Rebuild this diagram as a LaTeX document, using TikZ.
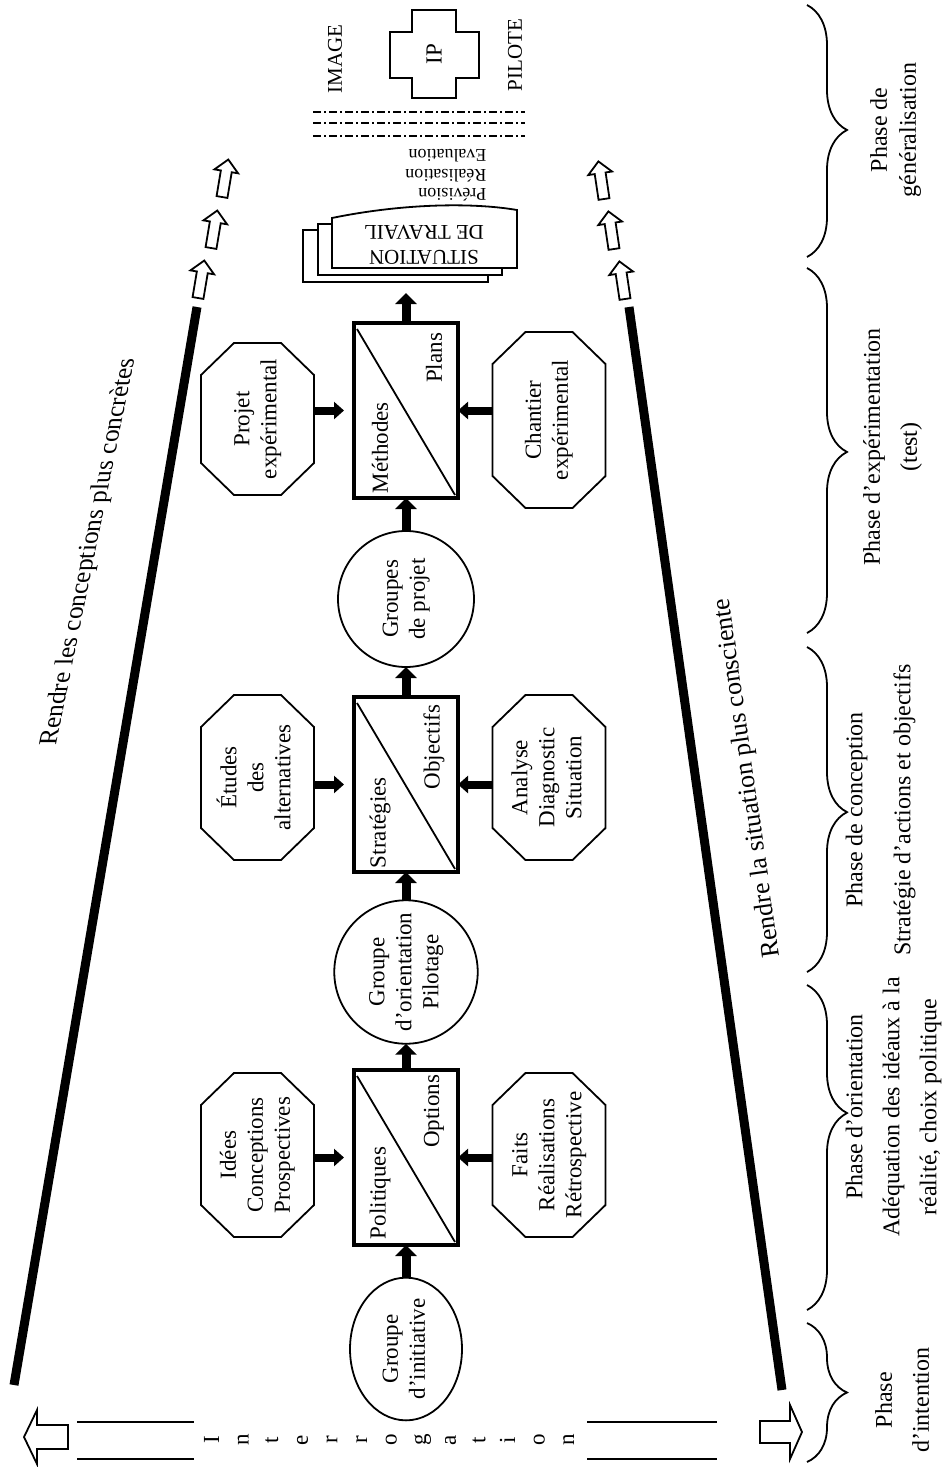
\documentclass[tikz,border=0pt]{standalone}
\usepackage{fontspec}
\setmainfont{Liberation Serif}
\usepackage{graphicx}
\usetikzlibrary{arrows.meta,shapes.geometric,decorations.pathreplacing}

% a block of centred lines, turned to read from bottom to top
\newcommand{\vtxt}[1]{\rotatebox{90}{\begin{tabular}{@{}c@{}}#1\end{tabular}}}
% a block of lines turned upside down
\newcommand{\flipped}[2]{\rotatebox{180}{\begin{tabular}{@{}#1@{}}#2\end{tabular}}}

\tikzset{
  hollowup/.pic={
    \draw[line width=0.9pt,fill=white,line join=miter]
      (-5.5,0) -- (-5.5,-26) -- (-12,-26) -- (0,-38) -- (12,-26) -- (5.5,-26) -- (5.5,0) -- cycle;
  }
}

\begin{document}
\begin{tikzpicture}[x=0.5pt,y=-0.5pt,
  every node/.style={inner sep=0pt,outer sep=0pt,font=\fontsize{11.5}{13.5}\selectfont},
  fineline/.style={line width=0.9pt},
  grp/.style={draw,circle,fineline,minimum size=68pt},
  grpell/.style={draw,ellipse,fineline,minimum width=56pt,minimum height=64pt},
  octo/.style={rectangle,minimum width=56.5pt},
  splitbox/.style={draw,rectangle,line width=1.8pt,minimum width=52pt,minimum height=87.5pt},
  vflow/.style={line width=4.5pt,-{Triangle[width=10.5pt,length=5.5pt]}},
  hflow/.style={line width=4pt,-{Triangle[width=8.5pt,length=5pt]}},
  phase/.style={font=\fontsize{12}{18.5}\selectfont},
  bracket/.style={fineline,decorate,decoration={brace,amplitude=20pt,aspect=#1}},
  bracket/.default=0.5,
  guideline/.style={line width=4.5pt},
  hollow/.style={fineline,fill=white,line join=miter},
  dashdotline/.style={line width=0.8pt,dash pattern=on 4pt off 1.5pt on 1pt off 1.5pt},
  slogan/.style={font=\fontsize{13}{15}\selectfont},
  capstxt/.style={font=\fontsize{10.5}{12.5}\selectfont},
  smalltxt/.style={font=\fontsize{9}{9.75}\selectfont},
]
\useasboundingbox (0,0) rectangle (947,1467);

% ---- main chain: groups and split boxes
\node[grpell] (gi) at (406,1349) {\vtxt{Groupe\\d'initiative}};
\node[splitbox] (b1) at (406,1157.5) {};
\node[grp] (go) at (406,972) {\vtxt{Groupe\\d'orientation\\Pilotage}};
\node[splitbox] (b2) at (406,784.5) {};
\node[grp] (gp) at (406,599) {\vtxt{Groupes\\de projet}};
\node[splitbox] (b3) at (406,410.5) {};

\foreach \b in {b1,b2,b3}
  \draw[fineline] ([shift={(3,6)}]\b.north west) -- ([shift={(-3,-3)}]\b.south east);

\node[anchor=south] (t1a) at (380,1239) {\rotatebox{90}{Politiques}};
\node[anchor=north] (t1b) at (434,1075) {\rotatebox{90}{Options}};
\node[anchor=south] (t2a) at (380,868) {\rotatebox{90}{Stratégies}};
\node[anchor=north] (t2b) at (434,705) {\rotatebox{90}{Objectifs}};
\node[anchor=south] (t3a) at (380,493) {\rotatebox{90}{Méthodes}};
\node[anchor=north] (t3b) at (434,333) {\rotatebox{90}{Plans}};

% ---- side inputs (octagons with cut corners)
\node[octo,minimum height=82pt] (i1) at (257.5,1155) {\vtxt{Idées\\Conceptions\\Prospectives}};
\node[octo,minimum height=82.5pt] (i2) at (257.5,777.5) {\vtxt{Études\\des\\alternatives}};
\node[octo,minimum height=76pt] (i3) at (257.5,419) {\vtxt{Projet\\expérimental}};
\node[octo,minimum height=82pt] (r1) at (549,1155) {\vtxt{Faits\\Réalisations\\Rétrospective}};
\node[octo,minimum height=82.5pt] (r2) at (549,777.5) {\vtxt{Analyse\\Diagnostic\\Situation}};
\node[octo,minimum height=88pt] (r3) at (549,420) {\vtxt{Chantier\\expérimental}};

\foreach \n in {i1,i2,i3,r1,r2,r3}
  \draw[fineline,line join=miter]
    ([shift={(0,32)}]\n.north west) -- ([shift={(33,0)}]\n.north west)
    -- ([shift={(-33,0)}]\n.north east) -- ([shift={(0,32)}]\n.north east)
    -- ([shift={(0,-32)}]\n.south east) -- ([shift={(-33,0)}]\n.south east)
    -- ([shift={(33,0)}]\n.south west) -- ([shift={(0,-32)}]\n.south west) -- cycle;

\draw[hflow,shorten >=5pt] (i1.east |- b1.west) -- (b1.west);
\draw[hflow,shorten >=5pt] (i2.east |- b2.west) -- (b2.west);
\draw[hflow,shorten >=5pt] (i3.east |- b3.west) -- (b3.west);
\draw[hflow] (r1.west |- b1.east) -- (b1.east);
\draw[hflow] (r2.west |- b2.east) -- (b2.east);
\draw[hflow] (r3.west |- b3.east) -- (b3.east);

\draw[vflow] (gi) -- (b1);
\draw[vflow] (b1) -- (go);
\draw[vflow] (go) -- (b2);
\draw[vflow] (b2) -- (gp);
\draw[vflow] (gp) -- (b3);
\coordinate (sitin) at (406,293);
\draw[vflow] (b3) -- (sitin);

% ---- stacked sheets
\draw[hollow] (303,230) rectangle (488,282);
\draw[hollow] (318,224) rectangle (502,275);
\draw[hollow] (332,268) -- (517,268) -- (517,210) .. controls (470,202) and (400,204) .. (332,218) -- cycle;
\node[capstxt] (sit) at (424,243) {\flipped{c}{SITUATION\\DE TRAVAIL}};
\node[smalltxt] (prev) at (446,173) {\flipped{l}{Prévision\\Réalisation\\Evaluation}};

\foreach \y in {112,123,136}
  \draw[dashdotline] (313,\y) -- (525,\y);

% ---- pilot image
\draw[fineline] (412,10) -- (456,10) -- (456,32) -- (479,32) -- (479,78) -- (456,78)
  -- (456,98) -- (412,98) -- (412,78) -- (390,78) -- (390,32) -- (412,32) -- cycle;
\node (ip) at (434,54) {\rotatebox{90}{IP}};
\node[capstxt] (img) at (335,59) {\rotatebox{90}{IMAGE}};
\node[capstxt] (pil) at (515,55) {\rotatebox{90}{PILOTE}};

% ---- converging guide lines and their continuation
\draw[guideline] (14,1385) -- (197,307);
\draw[guideline] (782,1390) -- (629,307);
\pic[rotate=-9.5] at (198,298) {hollowup};
\pic[rotate=-9.5] at (211,248) {hollowup};
\pic[rotate=-9.5] at (222,197) {hollowup};
\pic[rotate=8.5] at (625,299) {hollowup};
\pic[rotate=8.5] at (614,249) {hollowup};
\pic[rotate=8.5] at (604,199) {hollowup};

\node[slogan,cm={0.199,0.980,-1,0,(0,0)}] (concrete) at (89,552) {Rendre les conceptions plus concrètes};
\node[slogan,rotate=98] (aware) at (748,778) {Rendre la situation plus consciente};

% ---- interrogation column
\foreach \l [count=\i from 0] in {I,n,t,e,r,r,o,g,a,t,i,o,n}
  \node[rotate=90,anchor=base] (q\i) at ({219+29.6*\i},1440) {\l};
\draw[fineline] (77,1422) -- (194,1422);
\draw[fineline] (77,1459) -- (194,1459);
\draw[fineline] (587,1422) -- (717,1422);
\draw[fineline] (587,1459) -- (717,1459);
\draw[hollow] (68,1425) -- (37,1425) -- (37,1410) -- (24,1437) -- (37,1464) -- (37,1449) -- (68,1449) -- cycle;
\draw[hollow] (760,1421) -- (790,1421) -- (790,1405) -- (802,1432) -- (790,1459) -- (790,1443) -- (760,1443) -- cycle;

% ---- phases
\draw[bracket=0.5] (807,1323) -- (807,1462);
\draw[bracket=0.394] (807,985) -- (807,1310);
\draw[bracket=0.508] (807,647) -- (807,972);
\draw[bracket=0.504] (807,268) -- (807,633);
\draw[bracket=0.496] (807,5) -- (807,257);

\node[phase] (p1) at (903,1400) {\vtxt{Phase\\d'intention}};
\node[phase] (p2) at (892,1107) {\vtxt{Phase d'orientation\\Adéquation des idéaux à la\\réalité, choix politique}};
\node[phase] (p3) at (879,810) {\vtxt{Phase de conception\\[5.5pt]Stratégie d'actions et objectifs}};
\node[phase] (p4) at (891,447) {\vtxt{Phase d'expérimentation\\(test)}};
\node[phase] (p5) at (894,130) {\vtxt{Phase de\\[-4pt]généralisation}};
\end{tikzpicture}
\end{document}
